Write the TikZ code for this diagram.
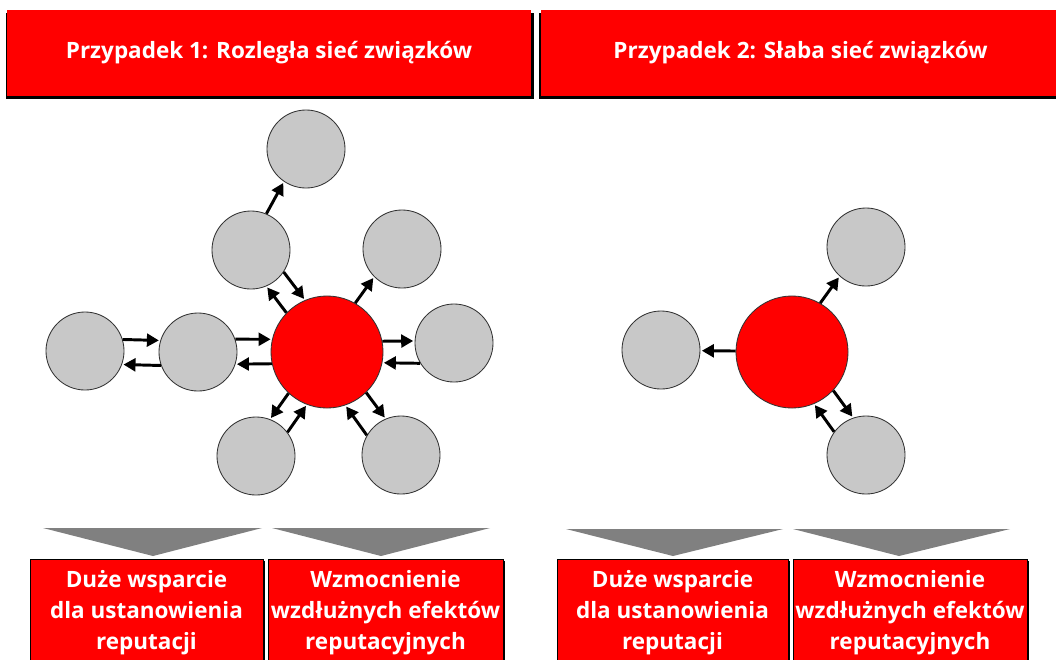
\documentclass[tikz,border=0pt]{standalone}
\usepackage{fontspec}
\setmainfont{Open Sans}
\usetikzlibrary{positioning,calc,shadows,arrows.meta}

\definecolor{boxred}{HTML}{FF0000}
\definecolor{nodegray}{HTML}{C8C8C8}
\definecolor{wedgegray}{HTML}{808080}

\tikzset{
	hub/.style={circle,minimum size=2.8cm,inner sep=0pt,draw=black!80,line width=0.6pt,fill=boxred},
	peer/.style={circle,minimum size=1.95cm,inner sep=0pt,draw=black!80,line width=0.6pt,fill=nodegray},
	link/.style={-{Triangle[length=3mm,width=3.2mm]},line width=2.1pt,shorten >=1pt},
	banner/.style={fill=boxred,text=white,inner sep=0pt,font=\bfseries\fontsize{16pt}{22pt}\selectfont,
		drop shadow={shadow xshift=0.025cm,shadow yshift=-0.075cm,shadow scale=1.01,fill=black,opacity=1}},
	outcome/.style={banner,draw=black,line width=0.5pt,align=center,minimum height=2.7cm},
	wedge/.style={fill=wedgegray}
}

\begin{document}
\begin{tikzpicture}[x=0.025cm,y=-0.025cm]
		\useasboundingbox (0,0) rectangle (1056,659);
		% headers
		\node[banner,minimum width=13.075cm,minimum height=2.15cm] (head1) at (269,53) {Przypadek 1: Rozległa sieć związków};
		\node[banner,minimum width=12.975cm,minimum height=2.15cm] (head2) at (800.5,53) {Przypadek 2: Słaba sieć związków};
		
		% case 1: dense network
		\node[hub] (c1) at (327,352) {};
		\node[peer,shift={(-21,-203)}] (top) at (c1) {};
		\node[peer,shift={(-76,-102)}] (ul) at (c1) {};
		\node[peer,shift={(75,-103)}] (ur) at (c1) {};
		\node[peer,shift={(-242,-1)}] (far) at (c1) {};
		\node[peer,shift={(-129,0)}] (mid) at (c1) {};
		\node[peer,shift={(127,-9)}] (rt) at (c1) {};
		\node[peer,shift={(-71,104)}] (ll) at (c1) {};
		\node[peer,shift={(74,103)}] (lr) at (c1) {};
		
		\draw[link] (far.17)--(mid.163);
		\draw[link] (mid.200)--(far.-20);
		\draw[link] (mid.19)--(c1.167);
		\draw[link] (c1.192)--(mid.-18);
		\draw[link] (c1.11)--(rt.177);
		\draw[link] (rt.211)--(c1.-11);
		\draw[link] (ul.-34)--(c1.113);
		\draw[link] (c1.136)--(ul.-67);
		\draw[link] (ul.67)--(top.236);
		\draw[link] (c1.60)--(ur.225);
		\draw[link] (c1.227)--(ll.69);
		\draw[link] (ll.37)--(c1.249);
		\draw[link] (c1.-46)--(lr.113);
		\draw[link] (lr.150)--(c1.-71);
		
		% case 2: weak network
		\node[hub] (c2) at (792,352) {};
		\node[peer,shift={(-131,-2)}] (lt) at (c2) {};
		\node[peer,shift={(74,-105)}] (up) at (c2) {};
		\node[peer,shift={(74,103)}] (dn) at (c2) {};
		
		\draw[link] (c2.179)--(lt.-1);
		\draw[link] (c2.60)--(up.228);
		\draw[link] (c2.-43)--(dn.109);
		\draw[link] (dn.144)--(c2.-67);
		
		% outcomes
		\fill[wedge] (43,528)--(262,528)--(153,556)--cycle;
		\fill[wedge] (272,528)--(490,528)--(381,556)--cycle;
		\fill[wedge] (566,529)--(783,529)--(673,556)--cycle;
		\fill[wedge] (793,529)--(1010,529)--(899,556)--cycle;
		
		\node[outcome,minimum width=5.825cm] (out1) at (146.5,613) {Duże wsparcie\\dla ustanowienia\\reputacji};
		\node[outcome,minimum width=5.875cm] (out2) at (385.5,613) {Wzmocnienie\\wzdłużnych efektów\\reputacyjnych};
		\node[outcome,minimum width=5.775cm] (out3) at (672.5,613) {Duże wsparcie\\dla ustanowienia\\reputacji};
		\node[outcome,minimum width=5.85cm] (out4) at (910,613) {Wzmocnienie\\wzdłużnych efektów\\reputacyjnych};
	\end{tikzpicture}
\end{document}
